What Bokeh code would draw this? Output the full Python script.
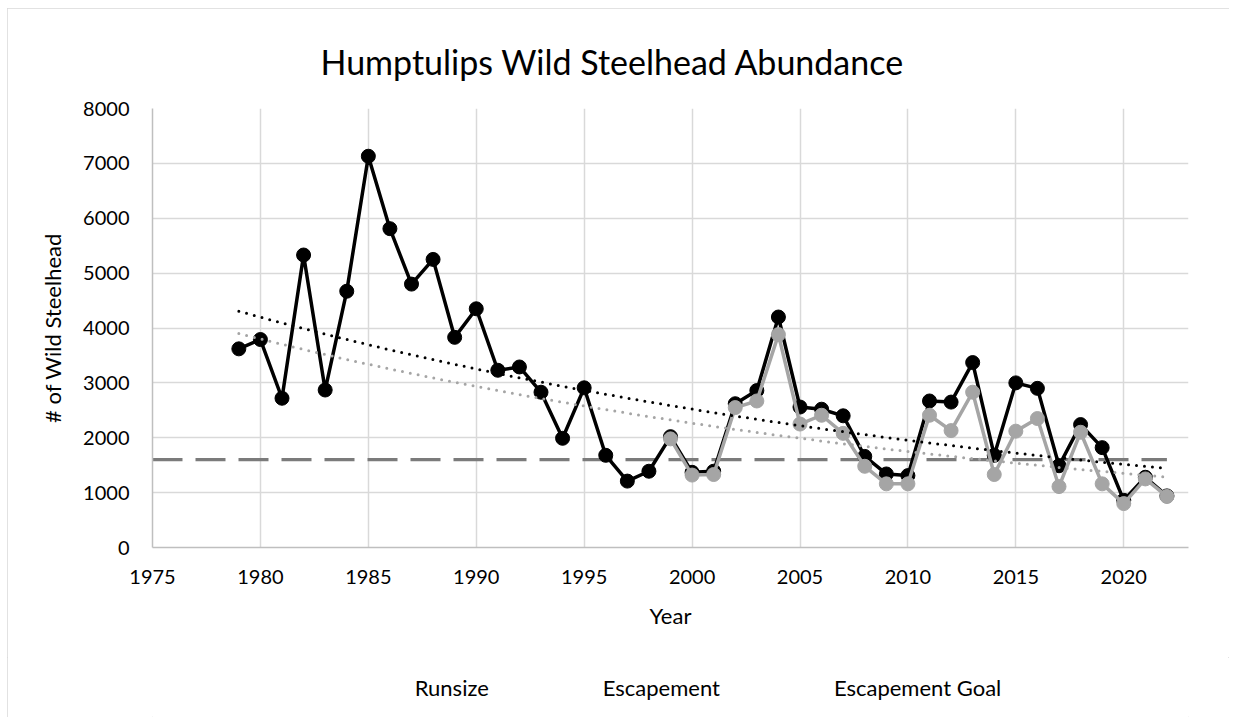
import numpy as np
from bokeh.plotting import figure
from bokeh.layouts import column
from bokeh.models import FixedTicker, Legend, LegendItem
from bokeh.embed import file_html
from bokeh.resources import INLINE

# ---------------- data ----------------
years = list(range(1979, 2023))
runsize = [3620, 3790, 2720, 5330, 2870, 4670, 7130, 5810, 4800, 5250,
           3830, 4350, 3230, 3290, 2830, 1990, 2910, 1680, 1210, 1390,
           2020, 1370, 1390, 2620, 2860, 4200, 2560, 2520, 2400, 1660,
           1340, 1310, 2670, 2650, 3370, 1680, 3000, 2900, 1490, 2240,
           1820, 860, 1280, 940]
esc_years = list(range(1999, 2023))
escapement = [1980, 1320, 1330, 2550, 2670, 3880, 2250, 2410, 2080, 1480,
              1160, 1160, 2410, 2130, 2830, 1330, 2120, 2350, 1110, 2100,
              1160, 800, 1250, 930]
goal_years = [1975, 2022]
goal = [1600, 1600]
trend_span = [1979, 2022]
x_ticks = [1975, 1980, 1985, 1990, 1995, 2000, 2005, 2010, 2015, 2020]
y_ticks = [0, 1000, 2000, 3000, 4000, 5000, 6000, 7000, 8000]
series_names = ["Runsize", "Escapement", "Escapement Goal"]

FONT = "Lato"
BLACK = "#000000"
GRAY = "#a5a5a5"
GOAL = "#7b7b7b"
GRID = "#d9d9d9"


def exp_trend(x, y, xs):
    b, ln_a = np.polyfit(np.asarray(x, float), np.log(np.asarray(y, float)), 1)
    return np.exp(ln_a + b * xs)


p = figure(frame_width=1036, frame_height=439,
           x_range=(1975, 2023), y_range=(0, 8000),
           output_backend="svg", toolbar_location=None,
           min_border_left=145, min_border_right=41,
           min_border_top=100, min_border_bottom=110)

p.title.text = "Humptulips Wild Steelhead Abundance"
p.title.align = "left"
p.title.offset = 168
p.title.text_font = FONT
p.title.text_font_size = "34px"
p.title.text_font_style = "normal"
p.title.text_color = "#000000"
p.title.standoff = 53

p.outline_line_color = None
p.background_fill_color = "white"
p.border_fill_color = "white"

for ax, ticks in ((p.xaxis, x_ticks), (p.yaxis, y_ticks)):
    ax.ticker = FixedTicker(ticks=ticks)
    ax.major_tick_line_color = None
    ax.major_tick_out = 0
    ax.major_tick_in = 0
    ax.minor_tick_line_color = None
    ax.minor_tick_out = 0
    ax.axis_line_color = "#bfbfbf"
    ax.axis_line_width = 1.5
    ax.major_label_text_font = FONT
    ax.major_label_text_font_size = "20px"
    ax.major_label_text_color = "#000000"
    ax.axis_label_text_font = FONT
    ax.axis_label_text_font_size = "22px"
    ax.axis_label_text_font_style = "normal"
    ax.axis_label_text_color = "#000000"

p.xaxis.axis_label = "Year"
p.yaxis.axis_label = "# of Wild Steelhead"
p.xaxis.major_label_standoff = 22
p.xaxis.axis_label_standoff = 15
p.yaxis.major_label_standoff = 23
p.yaxis.axis_label_standoff = 14

p.xgrid.ticker = FixedTicker(ticks=x_ticks)
p.ygrid.ticker = FixedTicker(ticks=y_ticks)
for g in (p.xgrid, p.ygrid):
    g.grid_line_color = GRID
    g.grid_line_width = 1.5

# goal line
p.line(goal_years, goal, line_color=GOAL, line_width=3.3, line_dash="30 13")

# runsize
p.line(years, runsize, line_color=BLACK, line_width=3.5)
p.scatter(years, runsize, size=14, fill_color=BLACK, line_color=BLACK)

# escapement
p.line(esc_years, escapement, line_color=GRAY, line_width=3.5)
p.scatter(esc_years, escapement, size=14, fill_color=GRAY, line_color=GRAY)

# exponential trend lines
tx = np.linspace(trend_span[0], trend_span[1], 200)
p.line(tx, exp_trend(years, runsize, tx), line_color=BLACK, line_width=3,
       line_dash="0 8", line_cap="round")
p.line(tx, exp_trend(esc_years, escapement, tx), line_color=GRAY, line_width=3,
       line_dash="0 8", line_cap="round")

# ---------------- legend strip (separate small figure below) ----------------
lg = figure(width=1222, height=60, x_range=(0, 1), y_range=(0, 1),
            output_backend="svg", toolbar_location=None,
            x_axis_location=None, y_axis_location=None,
            min_border_left=34, min_border_right=0,
            min_border_top=0, min_border_bottom=0)
lg.title.text = ""
lg.grid.visible = False
lg.outline_line_color = None
lg.background_fill_color = "white"
lg.border_fill_color = "white"

l_run_l = lg.line(x=[], y=[], line_color=BLACK, line_width=3.5)
l_run_m = lg.scatter(x=[], y=[], size=14, fill_color=BLACK, line_color=BLACK)
l_esc_l = lg.line(x=[], y=[], line_color=GRAY, line_width=3.5)
l_esc_m = lg.scatter(x=[], y=[], size=14, fill_color=GRAY, line_color=GRAY)
l_goal = lg.line(x=[], y=[], line_color=GOAL, line_width=3.3, line_dash="30 13")

legend = Legend(items=[
    LegendItem(label=series_names[0], renderers=[l_run_l, l_run_m]),
    LegendItem(label=series_names[1], renderers=[l_esc_l, l_esc_m]),
    LegendItem(label=series_names[2], renderers=[l_goal]),
], orientation="horizontal", location="center", margin=0, padding=5,
    glyph_width=68, glyph_height=35, label_standoff=8, spacing=38,
    label_text_font=FONT, label_text_font_size="22px",
    label_text_color="#000000",
    background_fill_alpha=0, border_line_color=None)
lg.add_layout(legend, "center")

layout = column(p, lg, spacing=0)
layout.styles = {"margin-left": "7px", "margin-top": "8px",
                 "outline": "1px solid #d9d9d9", "outline-offset": "-1px"}

open("out.html", "w").write(file_html(layout, INLINE))
